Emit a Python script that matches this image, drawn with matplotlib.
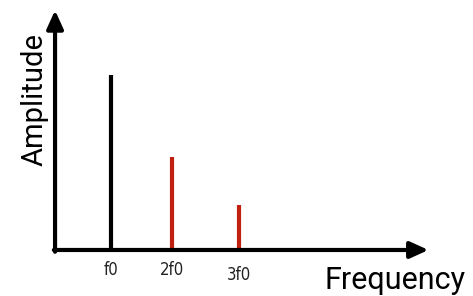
import matplotlib.pyplot as plt

# harmonic spectrum
freqs = [1.0, 2.0, 3.1]
amps = [1.0, 0.53, 0.26]
labels = ["f0", "2f0", "3f0"]
colors = ["#000000", "#c0200f", "#c0200f"]

fig = plt.figure(figsize=(4.73, 2.96), dpi=100)
ax = fig.add_axes([0, 0, 1, 1])
ax.set_xlim(-0.82, 6.93)
ax.set_ylim(-0.263, 1.429)
ax.axis("off")

# stems
ax.vlines(freqs, 0, amps, colors=colors, linewidth=3)

# axes with arrows
x0 = 0.082
ax.annotate("", xy=(6.2, 0), xytext=(x0 - 0.02, 0),
            arrowprops=dict(arrowstyle="-|>,head_length=1.1,head_width=0.5",
                            lw=3, color="black", shrinkA=0, shrinkB=0))
ax.annotate("", xy=(x0, 1.37), xytext=(x0, -0.01),
            arrowprops=dict(arrowstyle="-|>,head_length=1.1,head_width=0.5",
                            lw=3, color="black", shrinkA=0, shrinkB=0))

# tick labels under the stems
offs = [0, 0, -0.03]
for f, lab, o in zip(freqs, labels, offs):
    ax.text(f, -0.115 + o, lab, ha="center", va="center", fontsize=12,
            family="DejaVu Sans", fontstretch="condensed", color="#222222")

ax.text(5.66, -0.175, "Frequency", ha="center", va="center", fontsize=22,
        family=["Roboto", "DejaVu Sans"])
ax.text(-0.25, 0.86, "Amplitude", ha="center", va="center", fontsize=21,
        rotation=90, family=["Roboto", "DejaVu Sans"])

fig.savefig("out.png", dpi=100)
